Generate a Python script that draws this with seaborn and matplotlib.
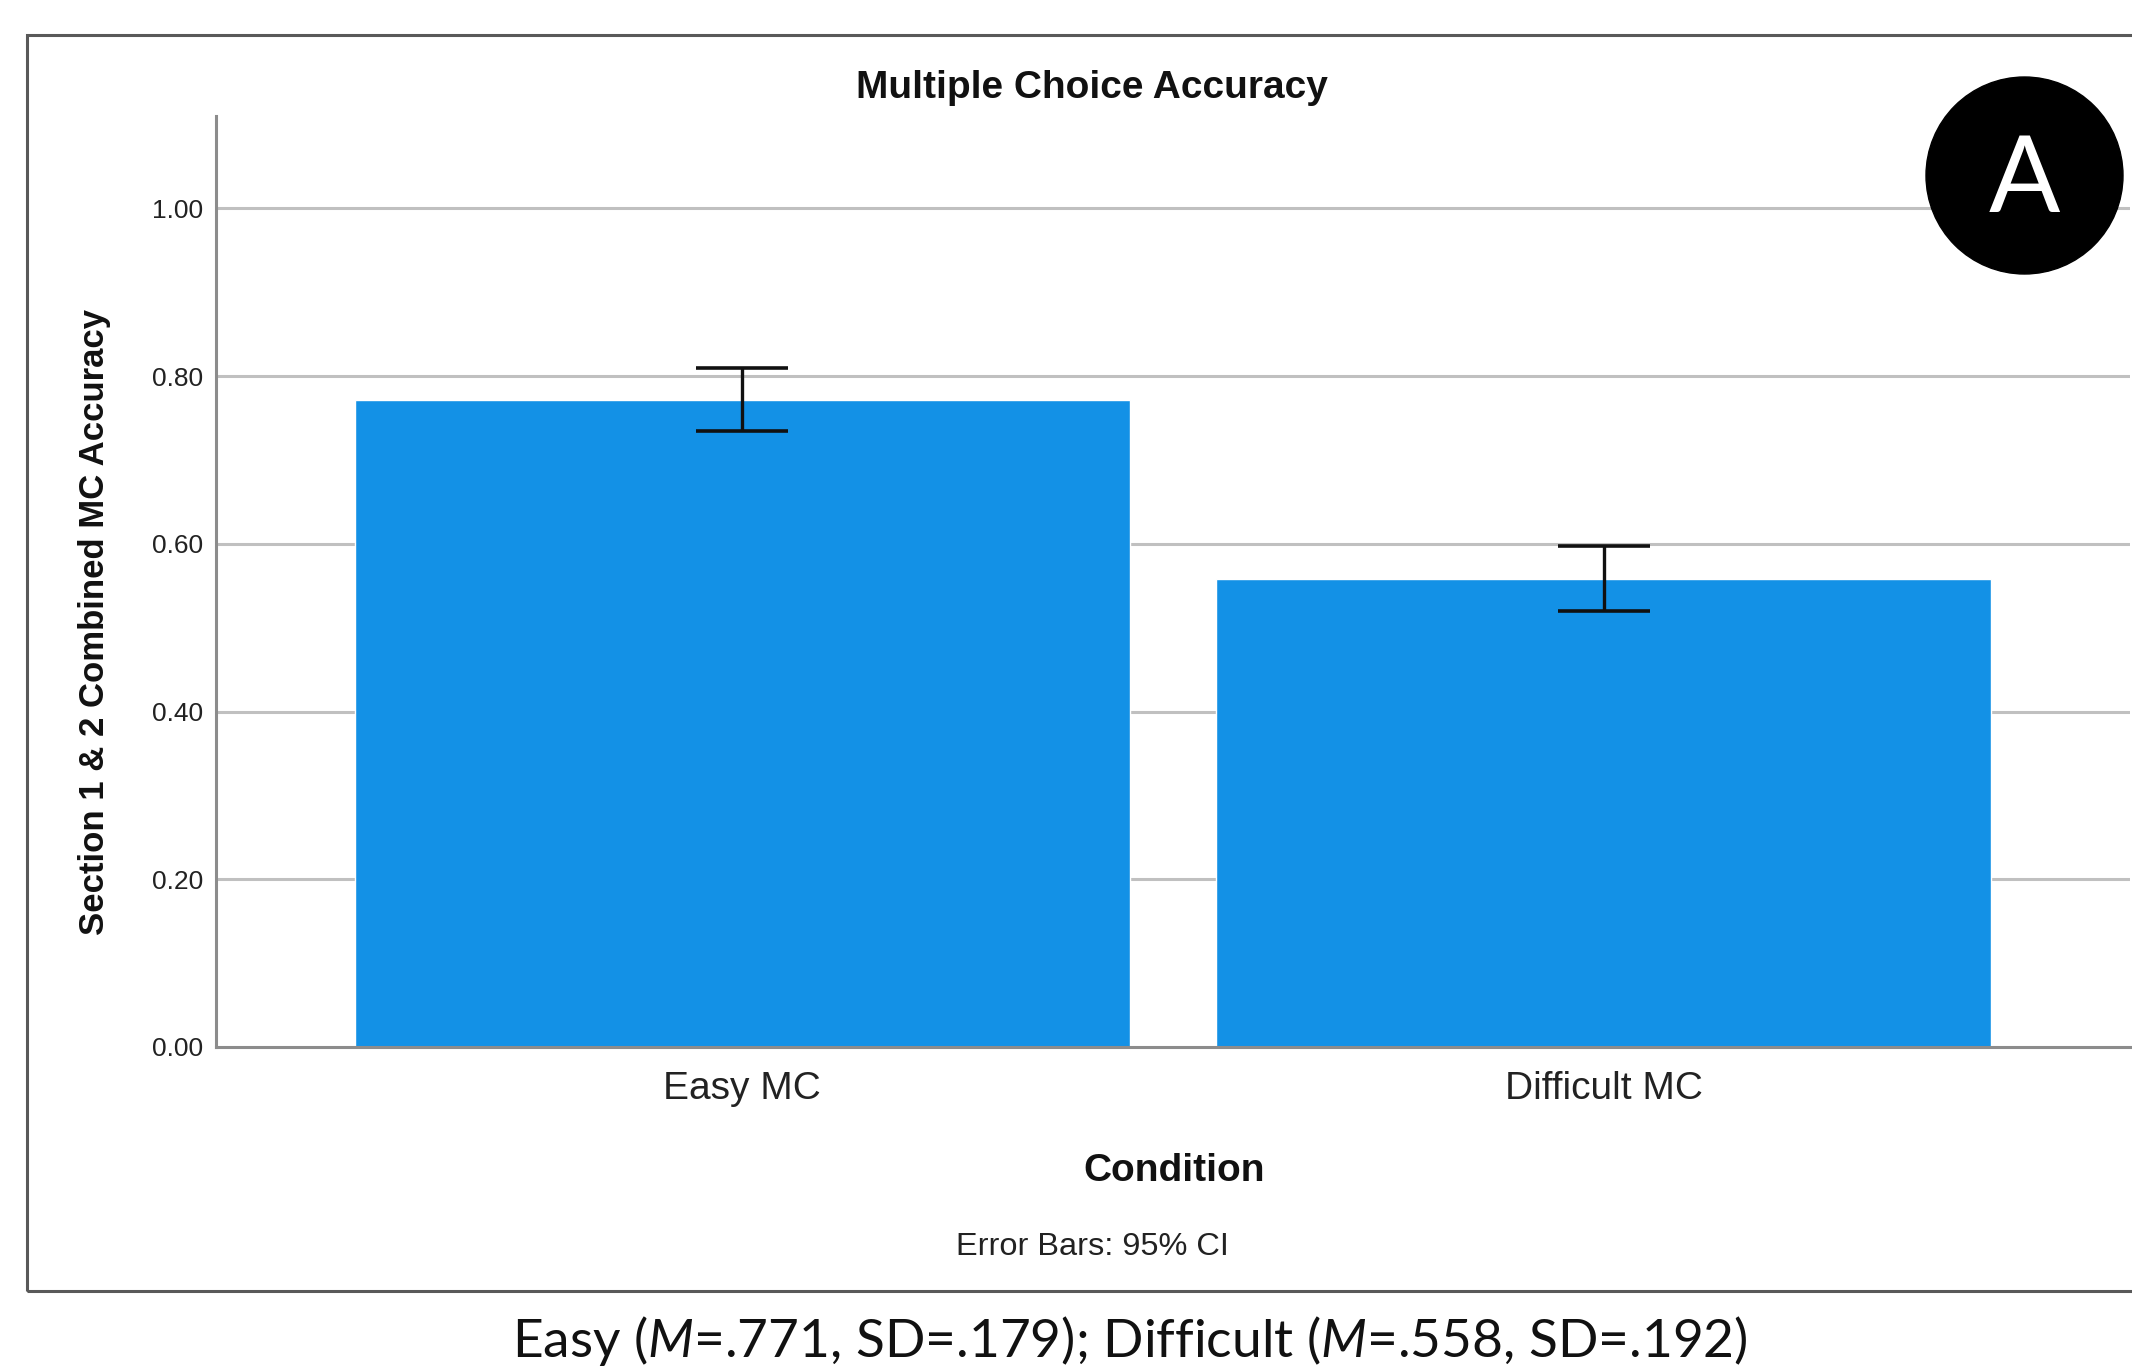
import matplotlib
matplotlib.use("Agg")
import matplotlib.pyplot as plt
from matplotlib.patches import Rectangle, Ellipse
import seaborn as sns
import pandas as pd

# data
conditions = ["Easy MC", "Difficult MC"]
means = [0.771, 0.558]
ci_low = [0.735, 0.520]
ci_high = [0.809, 0.597]
yticks = [0.0, 0.2, 0.4, 0.6, 0.8, 1.0]
caption = "Easy ($M$=.771, SD=.179); Difficult ($M$=.558, SD=.192)"

df = pd.DataFrame({"Condition": conditions, "Accuracy": means})

sns.set_theme(style="white")
plt.rcParams["font.family"] = ["Liberation Sans", "DejaVu Sans"]
plt.rcParams["mathtext.fontset"] = "custom"
plt.rcParams["mathtext.rm"] = "Lato"
plt.rcParams["mathtext.it"] = "Lato:italic"

W, H = 2132, 1370
fig = plt.figure(figsize=(W / 100, H / 100), dpi=100)
ax = fig.add_axes([216 / W, 1 - 1047 / H, (2130 - 216) / W, (1047 - 116) / H])

sns.barplot(data=df, x="Condition", y="Accuracy", color="#1391E6", saturation=1,
            width=0.9, errorbar=None, ax=ax, zorder=2)

# 95% CI error bars
xs = list(range(len(conditions)))
lower = [m - l for m, l in zip(means, ci_low)]
upper = [h - m for m, h in zip(means, ci_high)]
ax.errorbar(xs, means, yerr=[lower, upper], fmt="none", ecolor="#111111",
            elinewidth=2.4, capsize=33, capthick=2.6, zorder=3)

ax.set_xlim(-0.611, 1.611)
ax.set_ylim(0, 1.11)
ax.set_yticks(yticks)
ax.set_yticklabels([f"{v:.2f}" for v in yticks], fontsize=19, color="#222222")
ax.tick_params(axis="y", length=0, pad=9)
ax.tick_params(axis="x", length=0, pad=17, labelsize=28, labelcolor="#222222")
for v in yticks[1:]:
    ax.axhline(v, color="#c0c0c0", lw=2.2, zorder=1)

for s in ["top", "right"]:
    ax.spines[s].set_visible(False)
for s in ["left", "bottom"]:
    ax.spines[s].set_color("#8c8c8c")
    ax.spines[s].set_linewidth(2.2)
ax.set_xlabel("")
ax.set_ylabel("")

# texts
fig.text(1092 / W, 1 - 88 / H, "Multiple Choice Accuracy", ha="center", va="center",
         fontsize=28, fontweight="bold", color="#111111")
fig.text(1174 / W, 1 - 1171 / H, "Condition", ha="center", va="center",
         fontsize=28, fontweight="bold", color="#111111")
fig.text(95 / W, 1 - 622 / H, "Section 1 & 2 Combined MC Accuracy", ha="center", va="center",
         rotation=90, fontsize=25, fontweight="bold", color="#111111")
fig.text(1092 / W, 1 - 1247 / H, "Error Bars: 95% CI", ha="center", va="center",
         fontsize=23.4, color="#222222")
fig.text(1130 / W, 1 - 1341 / H, caption, ha="center", va="center",
         fontsize=38.3, family="Lato", color="#111111")

# frame around the chart
fig.add_artist(Rectangle((27 / W, 1 - 1291 / H), 1.05, (1291 - 35) / H, fill=False,
                         edgecolor="#595959", lw=2.2, transform=fig.transFigure))

# panel badge
fig.add_artist(Ellipse((2024.5 / W, 1 - 175.5 / H), 197 / W, 197 / H, color="black",
                       transform=fig.transFigure))
fig.text(2024.5 / W, 1 - 182 / H, "A", ha="center", va="center", fontsize=76,
         family="Lato", color="white")

fig.savefig("out.png", dpi=100)
